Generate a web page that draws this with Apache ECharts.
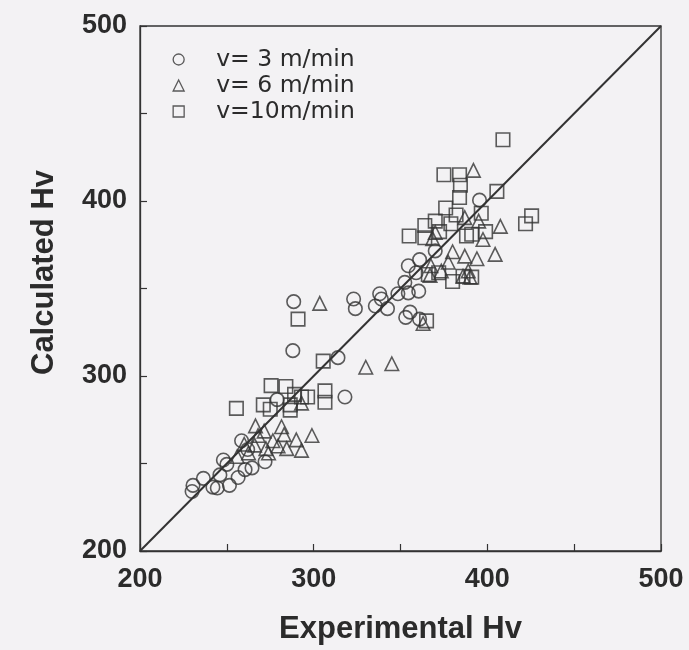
<!DOCTYPE html>
<html>
<head>
<meta charset="utf-8">
<script src="https://cdn.jsdelivr.net/npm/echarts@6/dist/echarts.min.js"></script>
<style>
  html, body { margin: 0; padding: 0; background: #f3f2f4; }
  #chart { width: 689px; height: 650px; }
</style>
</head>
<body>
<div id="chart"></div>
<script>
// Measured hardness [experimental Hv, calculated Hv] for each cutting speed
const speed3 = [
  [230, 234], [230.5, 237.5], [236.5, 241.5], [242, 236.5], [244.5, 236], [246, 243.5],
  [248, 252], [250, 249.5], [251.5, 237.5], [256.5, 242], [258.5, 263], [260.5, 246.5],
  [262, 258], [264.5, 247.5], [272, 251], [279, 286.5], [288, 314.5], [288.5, 342.5],
  [314, 310.5], [318, 288], [323, 344], [324, 338.5], [335.5, 340], [338, 347],
  [339, 344], [342.5, 338.5], [348.5, 347], [352.5, 353.5], [353, 333.5], [354.5, 347.5],
  [354.5, 363], [355.5, 336.5], [359, 359], [360.5, 348.5], [361, 332.5], [361, 366.5],
  [370, 371.5], [395.5, 400.5]
];
const speed6 = [
  [256, 254], [260, 261], [262.5, 256], [266, 260.5], [266.5, 271.5], [268, 266],
  [271.5, 268.5], [272.5, 258.5], [274, 256], [276.5, 263], [279.5, 260], [281.5, 271],
  [283, 266.5], [284.5, 258.5], [290, 263.5], [293, 257.5], [293, 284.5], [299, 266],
  [303.5, 341.5], [330, 305], [345, 307], [363, 330], [367, 357.5], [367.5, 363],
  [368.5, 378.5], [370, 382], [373.5, 360], [377.5, 365], [380, 371], [386, 357],
  [387, 368.5], [387, 390.5], [389, 360], [390, 356.5], [392, 417.5], [394, 367],
  [395, 388.5], [397.5, 378], [404.5, 369.5], [407.5, 385.5]
];
const speed10 = [
  [255.5, 281.5], [271, 283.5], [275, 281], [275.5, 294.5], [284, 294], [286.5, 283.5],
  [286.5, 280.5], [289, 289.5], [291, 332.5], [293, 288], [296.5, 288], [305.5, 308.5],
  [306.5, 291.5], [306.5, 285], [355, 380], [364, 386], [364, 379], [365, 331.5],
  [366, 358], [370, 388.5], [372, 359], [372.5, 382.5], [375, 415], [376, 396],
  [379, 387], [380, 354], [382, 392], [384, 415], [384.5, 409], [384, 402],
  [386, 357], [388, 380], [391, 356.5], [391, 381], [396.5, 393], [399, 382.5],
  [405.5, 405.5], [409, 435], [422, 387], [425.5, 391.5]
];
// Line of perfect agreement (calculated = experimental)
const parityLine = [200, 500];
const seriesNames = ['v= 3 m/min', 'v= 6 m/min', 'v=10m/min'];
const seriesSymbols = ['circle', 'triangle', 'rect'];

const ink = '#333333';
const textInk = '#2b2b2b';
const hollow = { color: 'rgba(0,0,0,0)', borderColor: ink, borderWidth: 1.6 };

const chart = echarts.init(document.getElementById('chart'), null, { renderer: 'canvas' });

const scatter = (name, symbol, data) => ({
  name, type: 'scatter', symbol, symbolSize: 13.5, data,
  itemStyle: hollow, emphasis: { disabled: true }, z: 3
});

const tickLabel = (extra) => Object.assign({
  fontSize: 27, fontWeight: 'bold', color: textInk,
  formatter: v => (v % 100 === 0 ? String(v) : '')
}, extra);

chart.setOption({
  backgroundColor: '#f3f2f4',
  animation: false,
  textStyle: { fontFamily: 'Liberation Sans, Arial, sans-serif', color: textInk },
  grid: { left: 140, top: 26, right: 28, bottom: 97, show: true, borderColor: ink, borderWidth: 1.3, backgroundColor: 'transparent' },
  legend: {
    orient: 'vertical', left: 172.5, top: 46.5, padding: 0,
    itemWidth: 11, itemHeight: 11, itemGap: 0,
    data: seriesNames.map((n, i) => ({ name: n, icon: seriesSymbols[i], itemStyle: { color: 'rgba(0,0,0,0)', borderColor: ink, borderWidth: 1.3 } })),
    textStyle: { fontFamily: 'DejaVu Sans', fontSize: 23.5, color: textInk, lineHeight: 26, padding: [0, 0, 0, 27] },
    selectedMode: false
  },
  xAxis: {
    type: 'value', min: 200, max: 500, interval: 50,
    name: 'Experimental Hv', nameLocation: 'middle', nameGap: 63,
    nameTextStyle: { fontSize: 31, fontWeight: 'bold', color: textInk },
    axisLine: { show: true, lineStyle: { color: ink, width: 1.3 } },
    axisTick: { show: true, inside: true, length: 7, lineStyle: { color: ink, width: 1.2 } },
    axisLabel: tickLabel({ margin: 15 }),
    splitLine: { show: false }
  },
  yAxis: {
    type: 'value', min: 200, max: 500, interval: 50,
    name: 'Calculated Hv', nameLocation: 'middle', nameGap: 80, nameRotate: 90,
    nameTextStyle: { fontSize: 31, fontWeight: 'bold', color: textInk, padding: [0, 0, 0, 32] },
    axisLine: { show: true, lineStyle: { color: ink, width: 1.3 } },
    axisTick: { show: true, inside: true, length: 7, lineStyle: { color: ink, width: 1.2 } },
    axisLabel: tickLabel({ margin: 13, padding: [0, 0, 4, 0] }),
    splitLine: { show: false }
  },
  series: [
    {
      name: 'parity', type: 'line', data: parityLine.map(v => [v, v]),
      symbol: 'none', lineStyle: { color: ink, width: 2 }, z: 2, silent: true
    },
    scatter(seriesNames[0], seriesSymbols[0], speed3),
    scatter(seriesNames[1], seriesSymbols[1], speed6),
    scatter(seriesNames[2], seriesSymbols[2], speed10)
  ]
});
</script>
</body>
</html>
